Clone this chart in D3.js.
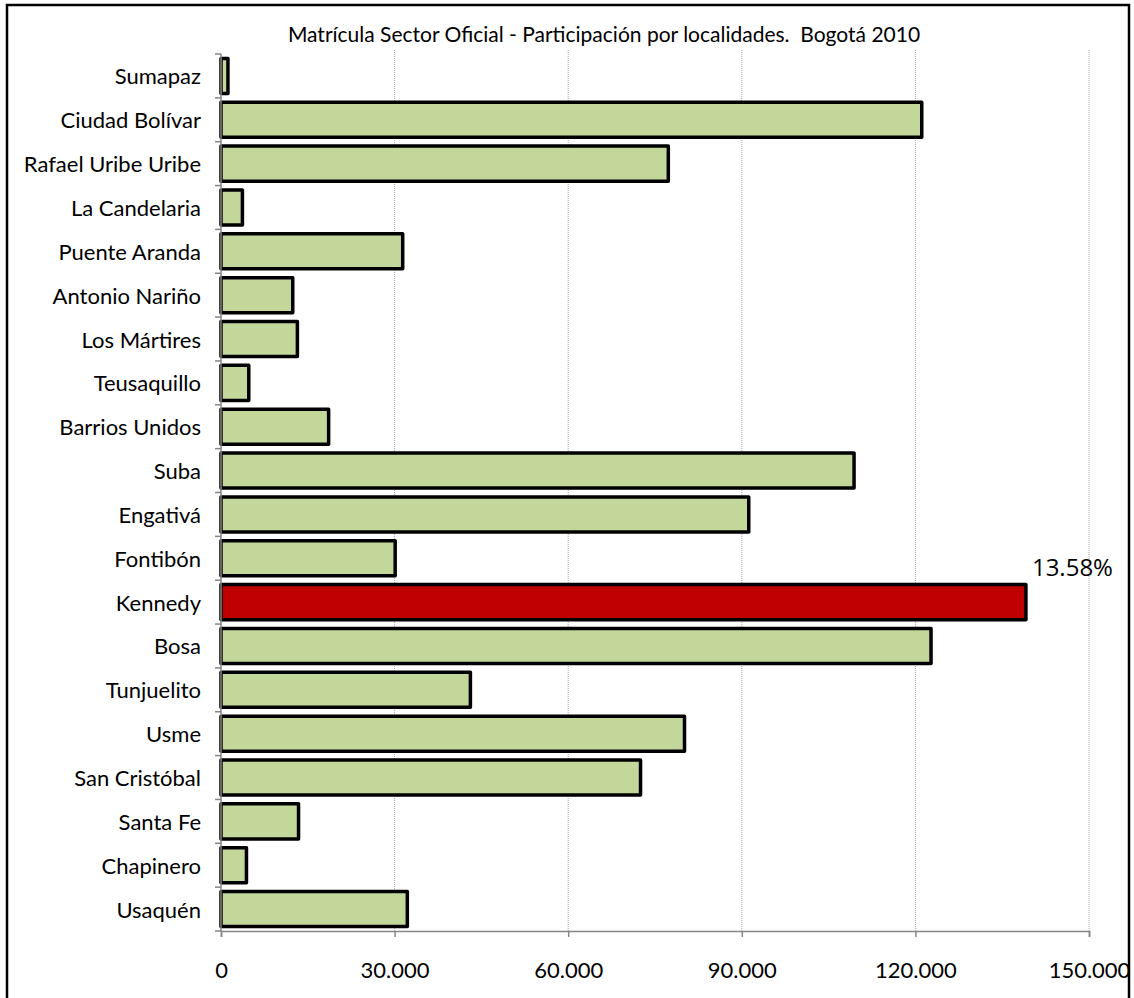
<!DOCTYPE html>
<html>
<head>
<meta charset="utf-8">
<script src="https://cdn.jsdelivr.net/npm/d3@7"></script>
<style>
  html, body { margin: 0; padding: 0; background: #fff; }
  svg { display: block; }
  text { font-family: Lato, "Noto Sans", sans-serif; fill: #000; }
</style>
</head>
<body>
<svg id="chart" width="1134" height="998"></svg>
<script>
const title = "Matrícula Sector Oficial - Participación por localidades.  Bogotá 2010";
const categories = ["Sumapaz", "Ciudad Bolívar", "Rafael Uribe Uribe", "La Candelaria", "Puente Aranda",
  "Antonio Nariño", "Los Mártires", "Teusaquillo", "Barrios Unidos", "Suba", "Engativá", "Fontibón",
  "Kennedy", "Bosa", "Tunjuelito", "Usme", "San Cristóbal", "Santa Fe", "Chapinero", "Usaquén"];
const values = [1200, 121100, 77300, 3700, 31400,
  12400, 13200, 4800, 18600, 109400, 91200, 30100,
  139100, 122700, 43100, 80100, 72500, 13400, 4400, 32200];
const highlighted = "Kennedy";
const highlightLabel = "13.58%";
const xTicks = [0, 30000, 60000, 90000, 120000, 150000];
const xTickLabels = ["0", "30.000", "60.000", "90.000", "120.000", "150.000"];

(function () {
const svg = d3.select("#chart");
const pL = 221, pR = 1089, pT = 54, pB = 931;

// outer frame
svg.append("rect").attr("x", 7).attr("y", 5).attr("width", 1122).attr("height", 1010)
  .attr("fill", "none").attr("stroke", "#000").attr("stroke-width", 2.5);

const x = d3.scaleLinear().domain([0, 150000]).range([pL, pR]);
const y = d3.scaleBand().domain(categories).range([pT, pB]).paddingInner(0.2).paddingOuter(0.1);

// gridlines
svg.append("g").selectAll("line").data(xTicks.filter(d => d > 0)).join("line")
  .attr("x1", d => x(d)).attr("x2", d => x(d))
  .attr("y1", pT - 4).attr("y2", pB)
  .attr("stroke", "#a6a6a6").attr("stroke-width", 1).attr("stroke-dasharray", "1,1");

// bars
svg.append("g").selectAll("rect").data(categories).join("rect")
  .attr("x", x(0))
  .attr("y", d => y(d))
  .attr("width", (d, i) => x(values[i]) - x(0))
  .attr("height", y.bandwidth())
  .attr("fill", d => d === highlighted ? "#c00000" : "#c4d79b")
  .attr("stroke", "#000").attr("stroke-width", 3.5).attr("stroke-linejoin", "round");

// y axis (category boundaries as ticks)
const yAxisG = svg.append("g");
yAxisG.append("line").attr("x1", pL).attr("x2", pL).attr("y1", pT).attr("y2", pB)
  .attr("stroke", "#868686").attr("stroke-width", 1.5);
const boundaries = d3.range(categories.length + 1).map(i => pT + i * (pB - pT) / categories.length);
yAxisG.selectAll("line.tick").data(boundaries).join("line").attr("class", "tick")
  .attr("x1", pL - 6).attr("x2", pL).attr("y1", d => d).attr("y2", d => d)
  .attr("stroke", "#868686").attr("stroke-width", 1.5);
yAxisG.selectAll("text").data(categories).join("text")
  .attr("x", 201).attr("y", d => y(d) + y.bandwidth() / 2)
  .attr("text-anchor", "end").attr("dominant-baseline", "central")
  .style("font-size", "22px")
  .text(d => d);

// x axis
const xAxisG = svg.append("g").attr("transform", `translate(0,${pB})`)
  .call(d3.axisBottom(x).tickValues(xTicks).tickSize(6).tickFormat((d, i) => xTickLabels[i]));
xAxisG.select(".domain").attr("stroke", "#868686").attr("stroke-width", 1.5);
xAxisG.selectAll(".tick line").attr("stroke", "#868686").attr("stroke-width", 1.5);
xAxisG.selectAll(".tick text").attr("y", 40).attr("dy", "0.32em")
  .style("font-size", "22px").style("font-family", "Lato, 'Noto Sans', sans-serif").attr("fill", "#000");

// highlight label
const hi = categories.indexOf(highlighted);
svg.append("text")
  .attr("x", x(values[hi]) + 6).attr("y", y(highlighted) - 9)
  .style("font-size", "24px").style("font-family", "'Open Sans', 'Noto Sans', sans-serif")
  .text(highlightLabel);

// title
svg.append("text").attr("x", 604).attr("y", 33).attr("text-anchor", "middle")
  .attr("dominant-baseline", "central").style("font-size", "21px")
  .style("white-space", "pre").attr("xml:space", "preserve")
  .text(title);
})();
</script>
</body>
</html>
